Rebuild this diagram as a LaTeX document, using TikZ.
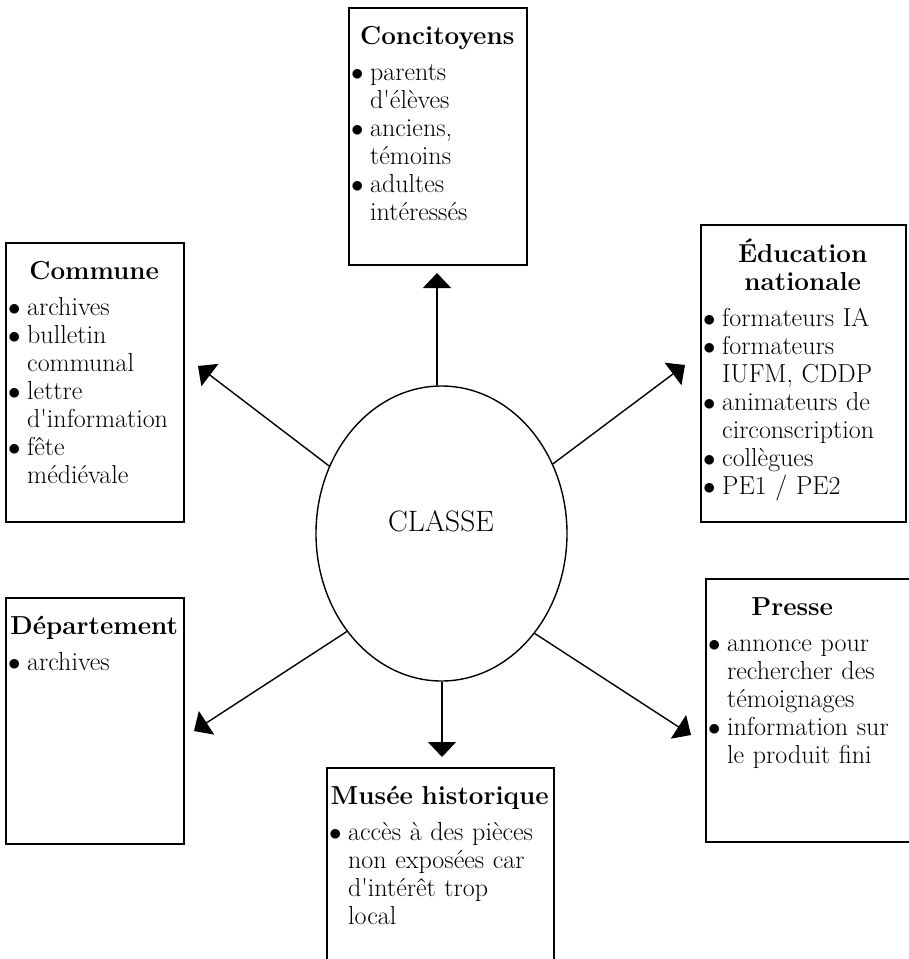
\documentclass[tikz,border=0pt]{standalone}
\usepackage{fontspec}
\usetikzlibrary{arrows.meta,shapes.geometric,calc}
\newcommand\bl{\hspace*{3pt}\makebox[19pt][l]{$\bullet$}}
\newcommand\ind{\hspace*{22pt}}
\newcommand\ttl[2]{\makebox[#1][c]{\bfseries #2}}
\newcommand\fst{\rule{0pt}{22pt}}
\newcommand\ap{\textquotesingle}
\tikzset{
  boxx/.style={draw, line width=1.7pt, rectangle, inner sep=0pt, anchor=north west},
  txt/.style={anchor=north west, inner sep=0pt, align=left, font=\fontsize{26}{28}\selectfont},
  arr/.style={line width=1.4pt, -{Triangle[length=15pt,width=28pt]}},
}
\begin{document}
\begin{tikzpicture}[x=1pt,y=-1pt]
\useasboundingbox (0,0) rectangle (909,959);

% boxes
\node[boxx, minimum width=178pt, minimum height=257pt] (conc) at (348,7) {};
\node[boxx, minimum width=178pt, minimum height=279pt] (comm) at (5,242) {};
\node[boxx, minimum width=205pt, minimum height=297pt] (educ) at (700,224) {};
\node[boxx, minimum width=178pt, minimum height=246pt] (dept) at (5,597) {};
\node[boxx, minimum width=230pt, minimum height=263pt] (pres) at (705,578) {};
\node[boxx, minimum width=227pt, minimum height=220pt] (muse) at (326,767) {};

% texts
\node[txt, text width=178pt] (concT) at (348,22) {\fst\ttl{178pt}{Concitoyens}\\[8pt]
\bl parents\\ \ind d\ap élèves\\ \bl anciens,\\ \ind témoins\\ \bl adultes\\ \ind intéressés};
\node[txt, text width=178pt] (commT) at (5,257) {\fst\ttl{178pt}{Commune}\\[8pt]
\bl archives\\ \bl bulletin\\ \ind communal\\ \bl lettre\\ \ind d\ap information\\ \bl fête\\ \ind médiévale};
\node[txt, text width=205pt] (educT) at (700,239) {\fst\ttl{205pt}{Éducation}\\ \ttl{205pt}{nationale}\\[8pt]
\bl formateurs IA\\ \bl formateurs\\ \ind IUFM, CDDP\\ \bl animateurs de\\ \ind circonscription\\ \bl collègues\\ \bl PE1 / PE2};
\node[txt, text width=178pt] (deptT) at (5,612) {\fst\ttl{178pt}{Département}\\[8pt]
\bl archives};
\node[txt, text width=225pt] (presT) at (705,593) {\fst\ttl{174pt}{Presse}\\[8pt]
\bl annonce pour\\ \ind rechercher des\\ \ind témoignages\\ \bl information sur\\ \ind le produit fini};
\node[txt, text width=227pt] (museT) at (326,782) {\fst\ttl{227pt}{Musée historique}\\[8pt]
\bl accès à des pièces\\ \ind non exposées car\\ \ind d\ap intérêt trop\\ \ind local};

% centre
\node[draw, ellipse, line width=1.4pt, minimum width=251pt, minimum height=295pt, inner sep=0pt] (cl) at (441.5,533.5) {};
\node[inner sep=0pt, font=\fontsize{29.5}{32}\selectfont] (clt) at (441,521) {CLASSE};

% arrow tips
\coordinate (tU) at (437,273);
\coordinate (tD) at (442,757);
\coordinate (tUL) at (198,366);
\coordinate (tUR) at (685,365);
\coordinate (tLL) at (194,731);
\coordinate (tLR) at (691,735);

\draw[arr] (cl.north -| tU) -- (tU);
\draw[arr] (cl.south -| tD) -- (tD);
\draw[arr] (cl.149) -- (tUL);
\draw[arr] (cl.32) -- (tUR);
\draw[arr] (cl.226) -- (tLL);
\draw[arr] (cl.313) -- (tLR);
\end{tikzpicture}
\end{document}
